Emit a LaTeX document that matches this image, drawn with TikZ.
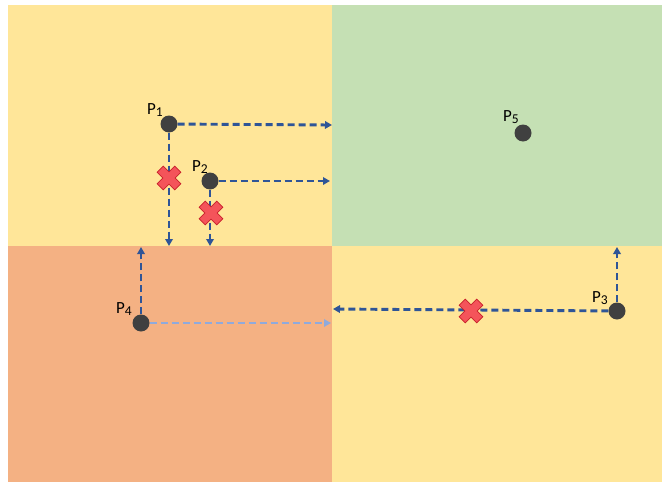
\documentclass[tikz,border=0pt]{standalone}
\usepackage{fontspec}
\setmainfont{Carlito}
\usepackage{tikz}
\usetikzlibrary{arrows.meta}

\definecolor{cellYellow}{HTML}{FFE699}
\definecolor{cellGreen}{HTML}{C5E0B4}
\definecolor{cellOrange}{HTML}{F4B183}
\definecolor{dotGray}{HTML}{404040}
\definecolor{rayBlue}{HTML}{2F5597}
\definecolor{rayLight}{HTML}{8FAADC}
\definecolor{crossRed}{HTML}{F4545A}
\definecolor{crossEdge}{HTML}{C8202A}

\newcommand{\ptname}[1]{P{\fontsize{13.5}{13.5}\selectfont\raisebox{-2.5pt}{#1}}}

\begin{document}
\begin{tikzpicture}[x=1pt, y=-1pt,
    pt/.style={circle, fill=dotGray, inner sep=0pt, minimum size=17pt},
    ptlabel/.style={font=\fontsize{17}{18}\selectfont, inner sep=0pt},
    ray/.style={draw=rayBlue, line width=2.9pt, dash pattern=on 7pt off 4pt,
      -{Triangle[length=7pt, width=7.5pt]}},
    raylight/.style={ray, draw=rayLight},
    blocked/.pic={
      \filldraw[fill=crossRed, draw=crossEdge, line width=0.7pt, rotate=45]
        (4.3,4.3) -- (12.5,4.3) -- (12.5,-4.3) -- (4.3,-4.3) -- (4.3,-12.5) -- (-4.3,-12.5)
        -- (-4.3,-4.3) -- (-12.5,-4.3) -- (-12.5,4.3) -- (-4.3,4.3) -- (-4.3,12.5) -- (4.3,12.5) -- cycle;
    }]
  \useasboundingbox (0,0) rectangle (662,482);
  % four cells
  \fill[cellYellow] (8,5) rectangle (332,246);
  \fill[cellGreen] (332,5) rectangle (662,246);
  \fill[cellOrange] (8,246) rectangle (332,482);
  \fill[cellYellow] (332,246) rectangle (662,482);

  % end points on the cell borders
  \coordinate (E1r) at (332,125);
  \coordinate (E1d) at (169,246);
  \coordinate (E2r) at (330,181);
  \coordinate (E2d) at (210,246);
  \coordinate (E3u) at (617,247);
  \coordinate (E3l) at (333,309);
  \coordinate (E4u) at (141,247);
  \coordinate (E4r) at (331,323);

  % points
  \node[pt] (p1) at (169,124) {};
  \node[pt] (p2) at (210,181) {};
  \node[pt] (p3) at (617,311) {};
  \node[pt] (p4) at (141,323) {};
  \node[pt] (p5) at (523,133) {};

  \node[ptlabel] (l1) at (155,110) {\ptname{1}};
  \node[ptlabel] (l2) at (200,167) {\ptname{2}};
  \node[ptlabel] (l3) at (600,298) {\ptname{3}};
  \node[ptlabel] (l4) at (124,309) {\ptname{4}};
  \node[ptlabel] (l5) at (511,117) {\ptname{5}};

  % rays
  \draw[ray] (p1) -- (E1r);
  \draw[ray] (p1) -- (E1d);
  \draw[ray] (p2) -- (E2r);
  \draw[ray] (p2) -- (E2d);
  \draw[ray] (p3) -- (E3u);
  \draw[ray] (p3) -- (E3l);
  \draw[ray] (p4) -- (E4u);
  \draw[raylight] (p4) -- (E4r);

  % blocked crossings
  \pic at (169,178) {blocked};
  \pic at (211,213) {blocked};
  \pic at (471,311) {blocked};
\end{tikzpicture}
\end{document}
